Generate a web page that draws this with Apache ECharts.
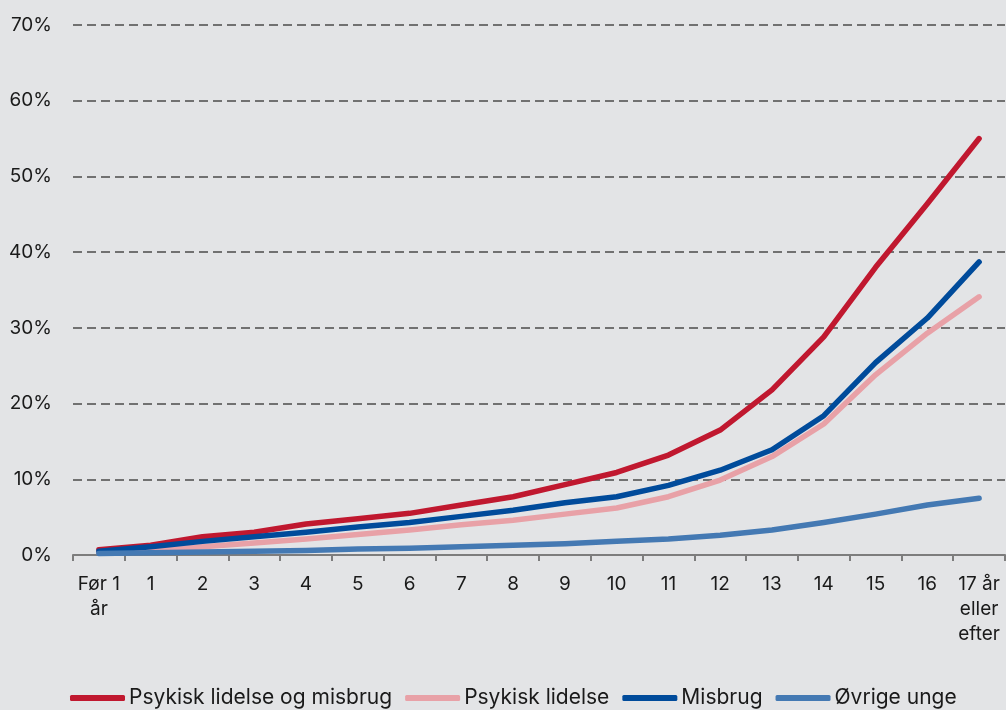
<!DOCTYPE html>
<html>
<head>
<meta charset="utf-8">
<script src="https://cdn.jsdelivr.net/npm/echarts@6/dist/echarts.min.js"></script>
<style>
html,body{margin:0;padding:0;background:#e3e4e6;}
#c{width:1006px;height:710px;}
</style>
</head>
<body>
<div id="c"></div>
<script>
const categories = ['Før 1\når','1','2','3','4','5','6','7','8','9','10','11','12','13','14','15','16','17 år\neller\nefter'];
const psykiskOgMisbrug = [0.7,1.3,2.4,3.0,4.1,4.8,5.5,6.6,7.7,9.3,10.9,13.2,16.5,21.8,28.8,38.0,46.4,55.0];
const psykisk = [0.3,0.6,1.1,1.6,2.1,2.7,3.3,4.0,4.6,5.4,6.2,7.7,9.9,13.0,17.3,23.8,29.3,34.1];
const misbrug = [0.5,1.1,1.8,2.4,3.0,3.7,4.3,5.1,5.9,6.9,7.7,9.2,11.2,13.9,18.4,25.4,31.3,38.7];
const oevrige = [0.2,0.3,0.4,0.5,0.6,0.8,0.9,1.1,1.3,1.5,1.8,2.1,2.6,3.3,4.3,5.4,6.6,7.5];
const seriesNames = ['Psykisk lidelse og misbrug','Psykisk lidelse','Misbrug','Øvrige unge'];
const colors = ['#c0182f','#e8a1a7','#004b9b','#4479b3'];
const yTicks = {min:0,max:70,interval:10};

const chart = echarts.init(document.getElementById('c'), null, {renderer:'canvas'});
const font = 'Inter, "Noto Sans", sans-serif';
const dataSets = [psykiskOgMisbrug, psykisk, misbrug, oevrige];
chart.setOption({
  backgroundColor:'#e3e4e6',
  textStyle:{fontFamily:font},
  animation:false,
  grid:{left:73,right:1,top:25,bottom:155,containLabel:false},
  legend:{
    left:65, top:681,
    itemWidth:55, itemHeight:6, itemGap:13,
    icon:'roundRect',
    textStyle:{fontFamily:font,fontSize:21,lineHeight:24,color:'#1a1a1a',padding:[0,0,0,-1]},
    data:seriesNames
  },
  xAxis:{
    type:'category',
    data:categories,
    boundaryGap:true,
    axisLine:{show:true,lineStyle:{color:'#7d7d7d',width:2}},
    axisTick:{show:true,length:6,lineStyle:{color:'#7d7d7d',width:2}},
    axisLabel:{fontFamily:font,fontSize:19,color:'#1a1a1a',margin:17,lineHeight:25,interval:0}
  },
  yAxis:{
    type:'value',
    min:yTicks.min,max:yTicks.max,interval:yTicks.interval,
    axisLine:{show:false},
    axisTick:{show:false},
    axisLabel:{fontFamily:font,fontSize:19,color:'#1a1a1a',margin:21,formatter:'{value}%'},
    splitLine:{show:true,lineStyle:{color:'#717171',width:2,type:[9,5]}}
  },
  series:seriesNames.map((n,i)=>({
    name:n,
    type:'line',
    data:dataSets[i],
    showSymbol:false,
    symbol:'none',
    color:colors[i],
    lineStyle:{width:5.5,color:colors[i],cap:'round',join:'round'},
    itemStyle:{color:colors[i]}
  }))
});
</script>
</body>
</html>
